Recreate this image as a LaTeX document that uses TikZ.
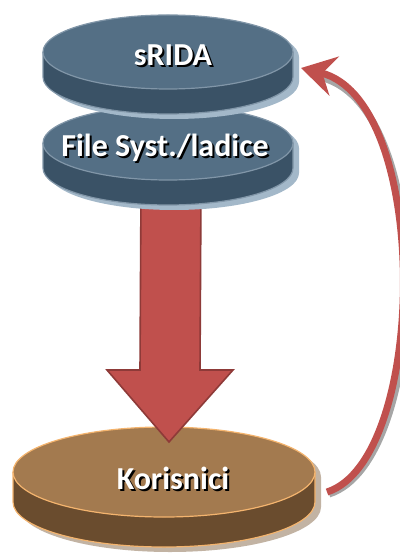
\documentclass[tikz,border=0pt]{standalone}
\usepackage{fontspec}
\setmainfont{Carlito}
\usetikzlibrary{arrows.meta,calc}

\definecolor{slatetop}{HTML}{546F85}
\definecolor{slateside}{HTML}{3A5266}
\definecolor{slateedge}{HTML}{8196A8}
\definecolor{slateshade}{HTML}{A3B8C9}
\definecolor{browntop}{HTML}{A37A4F}
\definecolor{brownside}{HTML}{6A4C2E}
\definecolor{brownedge}{HTML}{F4B46E}
\definecolor{brownshade}{HTML}{C2B3A3}
\definecolor{arrowred}{HTML}{C0504D}
\definecolor{arrowdark}{HTML}{8E3A38}

% disc: cx, cy, rx, ry, thickness, top, side, edge, shade
\newcommand{\drawdisc}[9]{%
\fill[#9] ({#1-#3+6},{#2-5}) -- ({#1-#3+6},{#2-#5-5}) arc (180:360:#3 and #4) -- ({#1+#3+6},{#2-5}) arc (0:180:#3 and #4) -- cycle;
\fill[#7] ({#1-#3},#2) -- ({#1-#3},{#2-#5}) arc (180:360:#3 and #4) -- ({#1+#3},#2) -- cycle;
\draw[#8, line width=0.6pt] ({#1-#3},#2) -- ({#1-#3},{#2-#5}) arc (180:360:#3 and #4) -- ({#1+#3},#2);
\filldraw[fill=#6, draw=#8, line width=0.6pt] (#1,#2) ellipse [x radius=#3, y radius=#4];
}

\tikzset{
  disclabel/.style={text=white, font=\bfseries\fontsize{16}{18}\selectfont},
  labelshade/.style={text=black, font=\bfseries\fontsize{16}{18}\selectfont},
}

\begin{document}
\begin{tikzpicture}[x=0.5pt, y=0.5pt]
\useasboundingbox (0,0) rectangle (400,-555);

% users
\drawdisc{164}{-472}{151}{45}{30}{browntop}{brownside}{brownedge}{brownshade}
\node[labelshade] at (175,-480) {Korisnici};
\node[disclabel] (kor) at (173,-478) {Korisnici};

% big arrow down
\coordinate (atop) at (170,-190);
\coordinate (atip) at (169,-442);
\filldraw[fill=arrowred, draw=arrowdark, line width=0.8pt]
  ($(atop)+(-29,0)$) -- ($(atip)+(-29,72)$) -- ($(atip)+(-62,72)$) -- (atip)
  -- ($(atip)+(64,72)$) -- ($(atip)+(31,72)$) -- ($(atop)+(31,0)$) -- cycle;

% file system
\drawdisc{168}{-143}{125}{37}{25}{slatetop}{slateside}{slateedge}{slateshade}
\node[labelshade] at (167,-150) {File Syst./ladice};
\node[disclabel] (fs) at (165,-148) {File Syst./ladice};

% srida
\drawdisc{168}{-52}{125}{37}{25}{slatetop}{slateside}{slateedge}{slateshade}
\node[labelshade] at (175,-57) {sRIDA};
\node[disclabel] (srida) at (173,-55) {sRIDA};

% feedback arrow
\coordinate (kout) at (327,-492);
\coordinate (sin) at (301,-68);
\draw[gray!70, line width=3.5pt] ($(kout)+(2,-2)$) .. controls (430,-462) and (438,-110) .. ($(sin)+(22,-10)$);
\draw[arrowred, line width=3.5pt, -{Stealth[length=17pt,width=20pt,inset=6pt]}] (kout) .. controls (428,-460) and (432,-100) .. (sin);
\end{tikzpicture}
\end{document}
